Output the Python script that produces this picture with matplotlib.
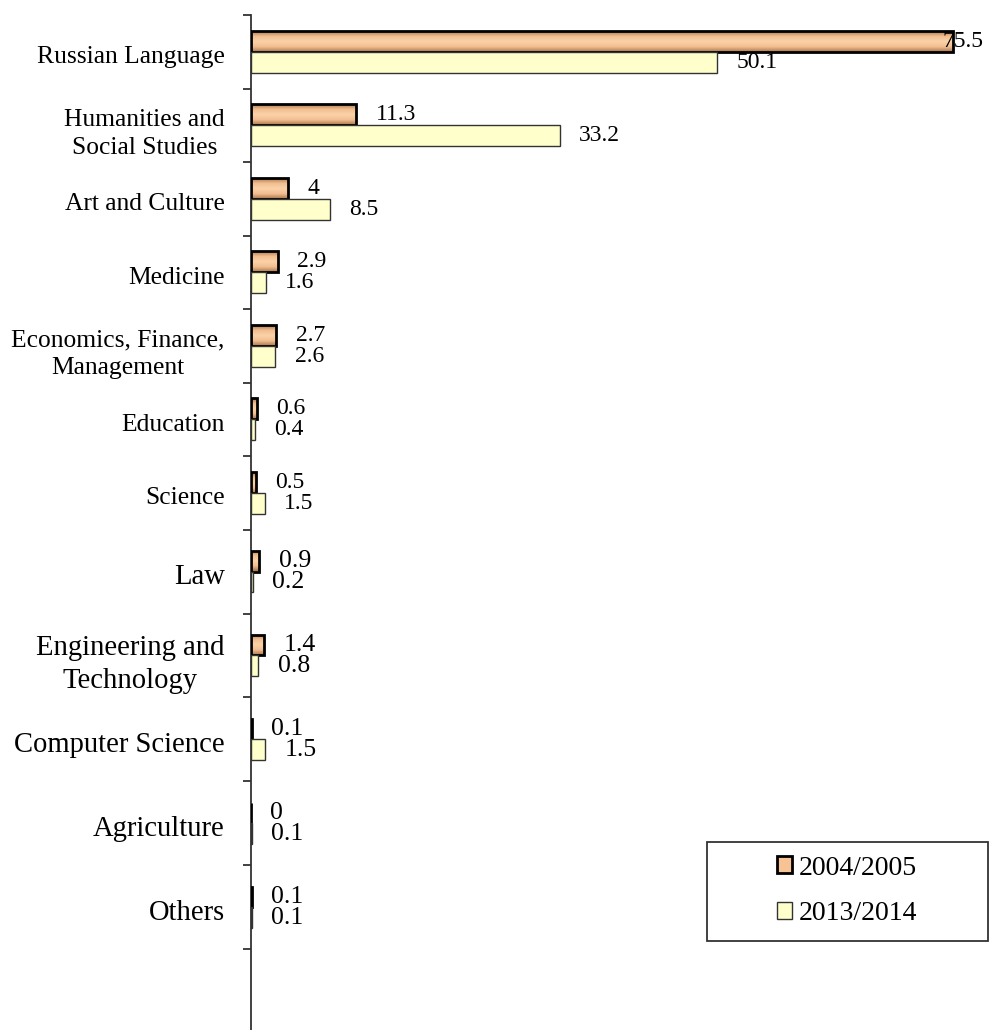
import numpy as np
import matplotlib
matplotlib.use('Agg')
import matplotlib.pyplot as plt
from matplotlib.patches import Rectangle, Patch

plt.rcParams['font.family'] = ['Liberation Serif', 'DejaVu Serif']

categories = ['Russian Language', 'Humanities and\nSocial Studies', 'Art and Culture',
              'Medicine', 'Economics, Finance,\nManagement', 'Education', 'Science',
              'Law', 'Engineering and\nTechnology', 'Computer Science', 'Agriculture',
              'Others']
share_2004 = [75.5, 11.3, 4, 2.9, 2.7, 0.6, 0.5, 0.9, 1.4, 0.1, 0, 0.1]
share_2013 = [50.1, 33.2, 8.5, 1.6, 2.6, 0.4, 1.5, 0.2, 0.8, 1.5, 0.1, 0.1]
series_names = ['2004/2005', '2013/2014']

orange = '#F7C395'
yellow = '#FFFFCC'

# the lower part of the original chart has slightly taller rows
n_top = 7
slots = np.array([1.0] * n_top + [84 / 73.5] * (len(categories) - n_top))
edges = np.concatenate([[0], np.cumsum(slots)])
y = (edges[:-1] + edges[1:]) / 2

fig = plt.figure(figsize=(9.89, 10.30), dpi=100)
ax = fig.add_axes([251 / 989, 0, 738 / 989, 1015 / 1030])

h = 0.285

bars_a = ax.barh(y - h / 2, share_2004, height=h, color=orange,
                 edgecolor='black', linewidth=2, zorder=3)
bars_b = ax.barh(y + h / 2, share_2013, height=h, color=yellow,
                 edgecolor='#333333', linewidth=1, zorder=3)

# shaded look on the first series (dark edges, light middle)
grad = np.concatenate([np.linspace(0, 1, 50), np.linspace(1, 0, 50)])
cmap = matplotlib.colors.LinearSegmentedColormap.from_list(
    'shade', ['#A8764E', '#F2BE90', '#FBD2A8'])
for b in bars_a:
    if b.get_width() <= 0:
        continue
    x0, y0 = b.get_x(), b.get_y()
    im = ax.imshow(grad.reshape(-1, 1), cmap=cmap, aspect='auto',
                   extent=[x0, x0 + b.get_width(), y0 + b.get_height(), y0],
                   zorder=2.5, interpolation='bilinear')
    im.set_clip_path(b)
    b.set_facecolor('none')

ax.set_xlim(0, 738 / 9.3)
ax.set_ylim(1015 / 73.5, 0)

# value labels
for i in range(len(categories)):
    fs = 17 if i < n_top else 18.5
    for v, dy in [(share_2004[i], -h / 2), (share_2013[i], h / 2)]:
        off = 14 if v < 70 else -8
        ax.annotate('%g' % v, (v, y[i] + dy), xytext=(off, 0),
                    textcoords='offset points', va='center', ha='left',
                    fontsize=fs, color='black')

for s in ['top', 'right', 'bottom']:
    ax.spines[s].set_visible(False)
ax.spines['left'].set_linewidth(1.3)
ax.spines['left'].set_color('#333333')
ax.set_xticks([])

ax.set_yticks(y + 0.04)
ax.set_yticklabels(categories)
for i, lab in enumerate(ax.get_yticklabels()):
    lab.set_fontsize(18.4 if i < n_top else 20.6)
    lab.set_multialignment('center')
    lab.set_linespacing(1.35)
ax.tick_params(axis='y', which='major', length=0, pad=19)
ax.set_yticks(edges, minor=True)
ax.tick_params(axis='y', which='minor', length=6, width=1.3, color='#333333')
ax.patch.set_visible(False)

# legend box
fig.patches.append(Rectangle((707 / 989, 1 - 941 / 1030), 281 / 989, 99 / 1030,
                             transform=fig.transFigure, fill=False,
                             edgecolor='#333333', linewidth=1.3))
handles = [Patch(facecolor=orange, edgecolor='black', linewidth=2),
           Patch(facecolor=yellow, edgecolor='#333333', linewidth=1)]
fig.legend(handles, series_names, loc='center', frameon=False, fontsize=20,
           bbox_to_anchor=((707 + 140) / 989, 1 - 891 / 1030),
           handlelength=0.55, handleheight=0.55, handletextpad=0.25,
           labelspacing=0.75)

fig.savefig('out.png', dpi=100)
